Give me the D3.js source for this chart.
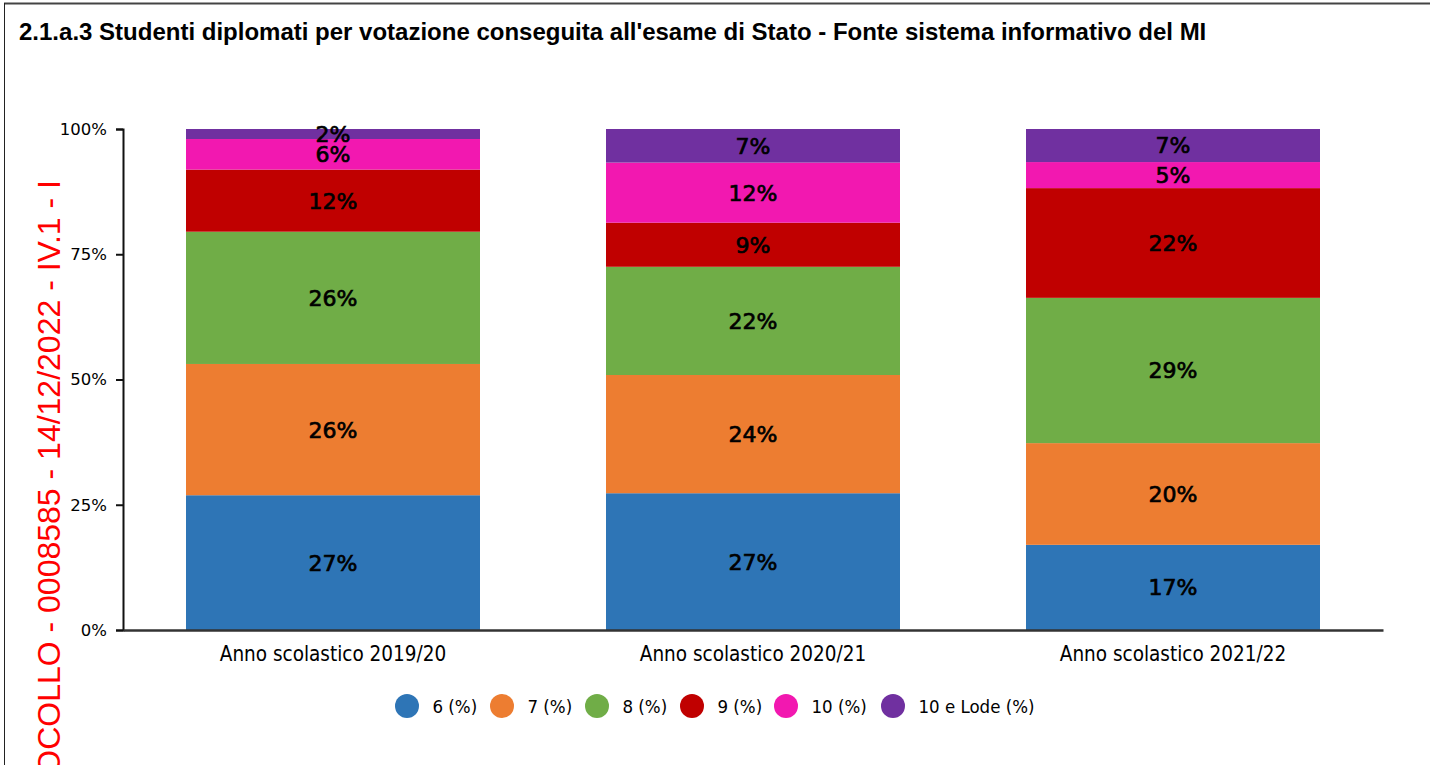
<!DOCTYPE html>
<html>
<head>
<meta charset="utf-8">
<script src="https://cdn.jsdelivr.net/npm/d3@7"></script>
<style>
html,body{margin:0;padding:0;background:#fff;}
svg{display:block;}
</style>
</head>
<body>
<svg id="chart" width="1430" height="765"></svg>
<script>
const title = "2.1.a.3 Studenti diplomati per votazione conseguita all'esame di Stato - Fonte sistema informativo del MI";
const stampText = "PROTOCOLLO - 0008585 - 14/12/2022 - IV.1 - I";
const categories = ["Anno scolastico 2019/20", "Anno scolastico 2020/21", "Anno scolastico 2021/22"];
const seriesNames = ["6 (%)", "7 (%)", "8 (%)", "9 (%)", "10 (%)", "10 e Lode (%)"];
const seriesColors = ["#2e75b6", "#ed7d31", "#70ad47", "#c00000", "#f218b0", "#7030a0"];
const voto6 = [26.9, 27.3, 17.0];
const voto7 = [26.2, 23.6, 20.3];
const voto8 = [26.4, 21.6, 29.0];
const voto9 = [12.4, 8.8, 21.9];
const voto10 = [6.1, 12.0, 5.2];
const voto10Lode = [2.0, 6.7, 6.6];
const yTicks = [0, 25, 50, 75, 100];

const seriesValues = [voto6, voto7, voto8, voto9, voto10, voto10Lode];
const rows = categories.map((c, i) => {
  const r = {cat: c};
  seriesNames.forEach((s, j) => r[s] = seriesValues[j][i]);
  return r;
});
const stacked = d3.stack().keys(seriesNames)(rows);

const svg = d3.select("#chart");

// frame
svg.append("line").attr("x1", 4).attr("x2", 1430).attr("y1", 3.5).attr("y2", 3.5)
  .attr("stroke", "#444").attr("stroke-width", 2);
svg.append("line").attr("x1", 4.5).attr("x2", 4.5).attr("y1", 3).attr("y2", 765)
  .attr("stroke", "#222").attr("stroke-width", 1);

svg.append("text").attr("x", 19).attr("y", 40)
  .attr("font-family", "'Liberation Sans', Arial, sans-serif")
  .attr("font-weight", "bold").attr("font-size", 24).attr("fill", "#000")
  .text(title);

const x = d3.scaleBand().domain(categories).range([123, 1383]).paddingInner(0.3).paddingOuter(0.15);
const y = d3.scaleLinear().domain([0, 100]).range([630, 129]);

const g = svg.append("g");
g.selectAll("g.series").data(stacked).join("g")
  .attr("fill", (d, i) => seriesColors[i])
  .selectAll("rect").data(d => d).join("rect")
  .attr("x", d => x(d.data.cat))
  .attr("width", x.bandwidth())
  .attr("y", d => y(d[1]))
  .attr("height", d => y(d[0]) - y(d[1]));

// labels
const lab = svg.append("g");
stacked.forEach(s => {
  s.forEach(d => {
    lab.append("text")
      .attr("x", x(d.data.cat) + x.bandwidth() / 2)
      .attr("y", (y(d[0]) + y(d[1])) / 2)
      .attr("dy", "0.36em")
      .attr("text-anchor", "middle")
      .attr("font-family", "'DejaVu Sans', sans-serif")
      .attr("font-size", 22)
      .attr("fill", "#000")
      .attr("stroke", "#000").attr("stroke-width", 0.7)
      .text(Math.round(d[1] - d[0]) + "%");
  });
});

// y axis
const yAxis = svg.append("g").attr("transform", "translate(123,0)")
  .call(d3.axisLeft(y).tickValues(yTicks).tickFormat(d => d + "%").tickSize(7).tickPadding(9));
yAxis.select(".domain").attr("stroke", "#111").attr("stroke-width", 2);
yAxis.selectAll(".tick line").attr("stroke", "#111").attr("stroke-width", 2);
yAxis.selectAll(".tick text").attr("font-family", "'DejaVu Sans', sans-serif").attr("font-size", 16.5).attr("fill", "#000");

// x axis
const xAxis = svg.append("g").attr("transform", "translate(0,630)")
  .call(d3.axisBottom(x).tickSize(0).tickPadding(16));
xAxis.select(".domain").attr("stroke", "#333").attr("stroke-width", 2.5);
xAxis.selectAll(".tick text").attr("font-family", "'DejaVu Sans Condensed', 'DejaVu Sans', sans-serif")
  .attr("font-size", 20.5).attr("fill", "#000");

// legend
const legX = [407, 502, 597, 692, 786, 893];
const leg = svg.append("g");
seriesNames.forEach((s, i) => {
  leg.append("circle").attr("cx", legX[i]).attr("cy", 706).attr("r", 12).attr("fill", seriesColors[i]);
  leg.append("text").attr("x", legX[i] + 25.5).attr("y", 706).attr("dy", "0.36em")
    .attr("font-family", "'DejaVu Sans Condensed', 'DejaVu Sans', sans-serif")
    .attr("font-size", 18.5).attr("fill", "#000").text(s);
});

// stamp
svg.append("text")
  .attr("transform", "translate(60,180) rotate(-90)")
  .attr("text-anchor", "end")
  .attr("font-family", "'Liberation Sans', Arial, sans-serif")
  .attr("font-size", 32).attr("fill", "#ff0000")
  .text(stampText);
</script>
</body>
</html>
